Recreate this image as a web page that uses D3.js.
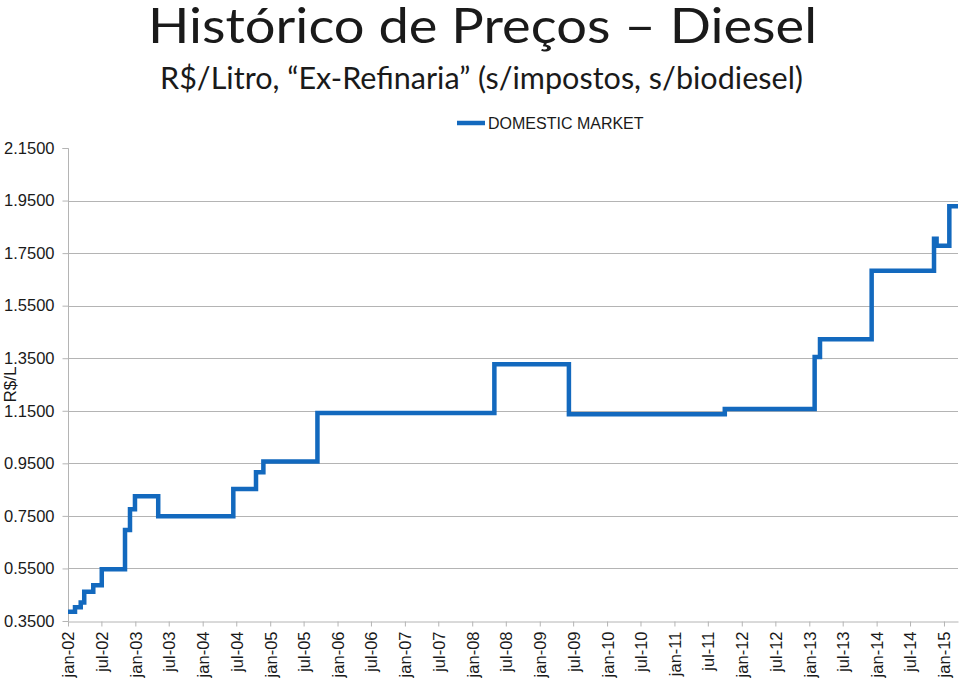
<!DOCTYPE html>
<html>
<head>
    <meta charset="UTF-8">
    <style>
        body {
            margin: 0;
            background: #fff;
        }

        .chart text {
            font-family: "Liberation Sans", Arial, sans-serif;
            fill: #1a1a1a;
        }

        .chart .title {
            font-family: Lato, "Open Sans", sans-serif;
        }
    </style>
    <title>Histórico de Preços – Diesel</title>
</head>
<body>
    <svg class="chart" id="d3chart" width="960" height="679"></svg>

    <script src="https://cdn.jsdelivr.net/npm/d3@7"></script>
    <script>
        // price change dates (step starts) and values
        const changeDates = [
            "2002-01-01", "2002-02-08", "2002-03-11", "2002-03-30", "2002-05-18",
            "2002-07-03", "2002-11-06", "2002-12-03", "2002-12-30", "2003-05-05",
            "2004-06-15", "2004-10-16", "2004-11-25", "2005-09-14", "2008-04-30",
            "2009-06-08", "2011-10-01", "2013-01-30", "2013-02-28", "2013-12-05",
            "2014-11-08", "2014-11-22", "2015-01-30"
        ];
        const prices = [
            0.385, 0.402, 0.420, 0.461, 0.486,
            0.547, 0.696, 0.775, 0.825, 0.749,
            0.852, 0.916, 0.957, 1.142, 1.327,
            1.137, 1.157, 1.355, 1.422, 1.683,
            1.805, 1.778, 1.928
        ];
        const seriesName = "DOMESTIC MARKET";
        const yTicks = [0.35, 0.55, 0.75, 0.95, 1.15, 1.35, 1.55, 1.75, 1.95, 2.15];
        const monthNames = ["jan", "fev", "mar", "abr", "mai", "jun", "jul", "ago", "set", "out", "nov", "dez"];
        const startDate = "2002-01-01", endDate = "2015-03-18";

        const plotLeft = 68, plotRight = 958, plotTop = 148, plotBottom = 621;
        const lineColor = "#1369be", gridColor = "#b4b4b4";

        const parse = d3.timeParse("%Y-%m-%d");
        const data = changeDates.map((d, i) => ({ date: parse(d), value: prices[i] }));
        // carry the last price to the end of the axis
        data.push({ date: parse(endDate), value: prices[prices.length - 1] });

        const svg = d3.select("#d3chart");

        const x = d3.scaleTime()
            .domain([parse(startDate), parse(endDate)])
            .range([plotLeft, plotRight]);
        const y = d3.scaleLinear()
            .domain([yTicks[0], yTicks[yTicks.length - 1]])
            .range([plotBottom, plotTop]);

        // titles
        svg.append("text")
            .attr("class", "title")
            .attr("x", 482.5).attr("y", 43)
            .attr("text-anchor", "middle")
            .attr("textLength", 669).attr("lengthAdjust", "spacingAndGlyphs")
            .style("font-size", "49px")
            .text("Histórico de Preços – Diesel");
        svg.append("text")
            .attr("class", "title")
            .attr("x", 481.5).attr("y", 89)
            .attr("text-anchor", "middle")
            .attr("textLength", 643).attr("lengthAdjust", "spacingAndGlyphs")
            .style("font-size", "30px")
            .text("R$/Litro, “Ex-Refinaria” (s/impostos, s/biodiesel)");

        // gridlines (not on the top or bottom value)
        svg.append("g")
            .selectAll("line")
            .data(yTicks.slice(1, -1))
            .join("line")
            .attr("x1", plotLeft).attr("x2", plotRight)
            .attr("y1", d => Math.round(y(d)) + 0.5).attr("y2", d => Math.round(y(d)) + 0.5)
            .attr("stroke", gridColor);

        // y axis
        const yAxis = svg.append("g")
            .attr("transform", `translate(${plotLeft + 0.5},0)`)
            .call(d3.axisLeft(y).tickValues(yTicks).tickFormat(d3.format(".4f")).tickSize(6).tickPadding(8));
        yAxis.select(".domain").attr("stroke", gridColor).attr("d", `M-6,${plotTop + 0.5}H0V${plotBottom + 0.5}`);
        yAxis.selectAll(".tick line").attr("stroke", gridColor);
        yAxis.selectAll(".tick text")
            .style("font-size", "16.5px")
            .style("font-family", "'Liberation Sans', Arial, sans-serif")
            .attr("fill", "#1a1a1a");

        // x axis
        const xAxis = svg.append("g")
            .attr("transform", `translate(0,${plotBottom + 0.5})`)
            .call(d3.axisBottom(x)
                .ticks(d3.timeMonth.every(6))
                .tickFormat(d => `${monthNames[d.getMonth()]}-${d3.timeFormat("%y")(d)}`)
                .tickSize(5)
                .tickSizeOuter(0));
        xAxis.select(".domain").attr("stroke", gridColor);
        xAxis.selectAll(".tick line").attr("stroke", gridColor);
        xAxis.selectAll(".tick text")
            .style("font-size", "16.5px")
            .style("font-family", "'Liberation Sans', Arial, sans-serif")
            .attr("fill", "#1a1a1a")
            .attr("text-anchor", "end")
            .attr("transform", "rotate(-90)")
            .attr("x", -10).attr("y", 0).attr("dy", "0.36em");

        // y axis title
        svg.append("text")
            .attr("transform", `translate(15.5,${(plotTop + plotBottom) / 2}) rotate(-90)`)
            .attr("text-anchor", "middle")
            .style("font-size", "17px")
            .text("R$/L");

        // price line
        const line = d3.line()
            .x(d => x(d.date))
            .y(d => y(d.value))
            .curve(d3.curveStepAfter);

        svg.append("path")
            .datum(data)
            .attr("fill", "none")
            .attr("stroke", lineColor)
            .attr("stroke-width", 4.5)
            .attr("stroke-linejoin", "miter")
            .attr("d", line);

        // legend
        const legend = svg.append("g").attr("transform", "translate(457,123)");
        legend.append("line")
            .attr("x1", 0).attr("x2", 28)
            .attr("stroke", lineColor).attr("stroke-width", 4.5);
        legend.append("text")
            .attr("x", 31).attr("y", 6)
            .style("font-size", "16px")
            .text(seriesName);
    </script>
</body>
</html>
